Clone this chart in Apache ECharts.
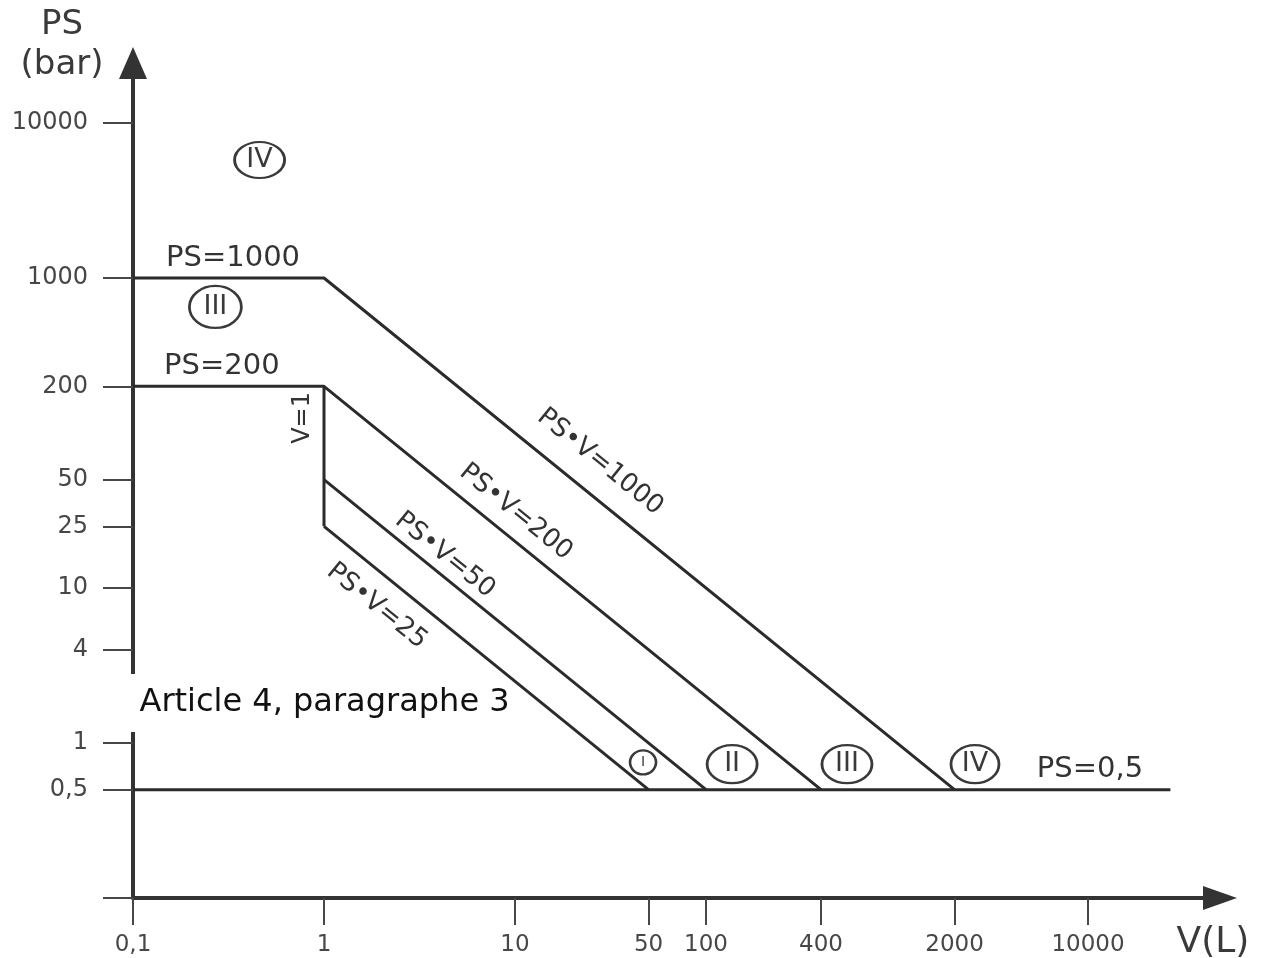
<!DOCTYPE html>
<html>
<head>
<meta charset="utf-8">
<title>PS / V</title>
<script src="https://cdn.jsdelivr.net/npm/echarts@6/dist/echarts.min.js"></script>
<style>
html, body { margin: 0; padding: 0; background: #fff; }
#chart { width: 1268px; height: 958px; }
</style>
</head>
<body>
<div id="chart"></div>
<script>
// tick values
var xTicks = [0.1, 1, 10, 50, 100, 400, 2000, 10000];
var yTicks = [0.1, 0.5, 1, 4, 10, 25, 50, 200, 1000, 10000];
var yLabels = [0.5, 1, 4, 10, 25, 50, 200, 1000, 10000];

// boundary lines, [V, PS]
var linePS1000 = [[0.1, 1000], [1, 1000], [2000, 0.5]];
var linePS200 = [[0.1, 200], [1, 200], [400, 0.5]];
var lineV1 = [[1, 200], [1, 25]];
var linePSV50 = [[1, 50], [100, 0.5]];
var linePSV25 = [[1, 25], [50, 0.5]];
var linePS05 = [[0.1, 0.5], [27000, 0.5]];

// category circles
var zoneNames = ['IV', 'III', 'I', 'II', 'III', 'IV'];
var zoneAt = [[0.46, 5770], [0.27, 650], [46.8, 0.75], [137, 0.73], [547, 0.73], [2560, 0.73]];

// captions of the lines
var captionText = ['PS=1000', 'PS=200', 'V=1', 'PS•V=1000', 'PS•V=200', 'PS•V=50', 'PS•V=25', 'PS=0,5'];
var captionAt = [[0.334, 1346], [0.292, 270], [0.776, 125], [27.9, 65], [10.1, 30.9], [4.3, 16.3], [1.89, 7.65], [10240, 0.679]];

var noteText = 'Article 4, paragraphe 3';
var noteAt = [0.1, 1.81];

var ink = '#2b2b2b';
var grey = '#474747';
var slope = 39; // angle of PS*V lines on screen

function comma(v) { return String(v).replace('.', ','); }

function boundary(data) {
    return {
        type: 'line',
        data: data,
        symbol: 'none',
        silent: true,
        lineStyle: { color: ink, width: 3 }
    };
}

var zoneSize = [[50, 36], [52, 42], [26, 24], [50, 38], [50, 38], [48, 38]];

var chart = echarts.init(document.getElementById('chart'));
chart.setOption({
    animation: false,
    backgroundColor: '#fff',
    textStyle: { fontFamily: 'DejaVu Sans' },
    grid: { left: 133, top: 63, right: 48, bottom: 60, containLabel: false, outerBoundsMode: 'none' },
    xAxis: {
        type: 'log',
        logBase: 10,
        min: 0.1,
        max: 49090,
        splitLine: { show: false },
        minorTick: { show: false },
        axisLine: {
            show: true,
            onZero: false,
            symbol: ['none', 'triangle'],
            symbolSize: [24, 34],
            lineStyle: { color: '#333', width: 4 }
        },
        axisTick: { show: true, customValues: xTicks, length: 27, lineStyle: { color: grey, width: 2 } },
        axisLabel: { customValues: xTicks, formatter: comma, margin: 36, fontSize: 23, color: grey },
        name: 'V(L)',
        nameLocation: 'end',
        nameGap: -7,
        nameMoveOverlap: false,
        nameTextStyle: { fontSize: 36, color: '#3a3a3a', align: 'center', verticalAlign: 'top', padding: [27, 0, 0, 0] }
    },
    yAxis: {
        type: 'log',
        logBase: 10,
        min: 0.1,
        max: 24380,
        splitLine: { show: false },
        minorTick: { show: false },
        axisLine: {
            show: true,
            onZero: false,
            symbol: ['none', 'triangle'],
            symbolSize: [28, 32],
            lineStyle: { color: '#333', width: 4 }
        },
        axisTick: { show: true, customValues: yTicks, length: 30, lineStyle: { color: grey, width: 2 } },
        axisLabel: { customValues: yLabels, formatter: comma, margin: 45, fontSize: 24, color: grey },
        name: 'PS\n(bar)',
        nameLocation: 'end',
        nameGap: -22,
        nameMoveOverlap: false,
        nameTextStyle: {
            fontSize: 34, color: '#3a3a3a', lineHeight: 40,
            align: 'center', verticalAlign: 'bottom', padding: [0, 142, 0, 0]
        }
    },
    series: [
        boundary(linePS1000),
        boundary(linePS200),
        boundary(lineV1),
        boundary(linePSV50),
        boundary(linePSV25),
        boundary(linePS05),
        {
            type: 'scatter',
            silent: true,
            symbol: 'circle',
            itemStyle: { color: 'rgba(255,255,255,0)', borderColor: '#3a3a3a', borderWidth: 2.5, opacity: 1 },
            label: { show: true, position: 'inside', formatter: '{b}', color: '#3a3a3a', fontSize: 27, opacity: 1 },
            data: zoneNames.map(function (n, i) {
                return {
                    name: n,
                    value: zoneAt[i],
                    symbolSize: zoneSize[i],
                    label: { fontSize: i === 2 ? 14 : 27 }
                };
            })
        },
        {
            type: 'scatter',
            silent: true,
            symbolSize: 1,
            itemStyle: { color: 'rgba(0,0,0,0)', opacity: 1 },
            label: { show: true, position: 'inside', formatter: '{b}', color: '#333', opacity: 1 },
            data: captionText.map(function (t, i) {
                var rot = 0, size = 29;
                if (t.indexOf('•') >= 0) { rot = -slope; size = 26; }
                else if (t === 'V=1') { rot = 90; size = 24; }
                return { name: t, value: captionAt[i], label: { rotate: rot, fontSize: size } };
            })
        },
        {
            type: 'scatter',
            silent: true,
            symbolSize: 1,
            itemStyle: { color: 'rgba(0,0,0,0)', opacity: 1 },
            label: {
                show: true, position: 'right', distance: 0, offset: [-6, 0],
                formatter: '{b}', color: '#111', fontSize: 32, opacity: 1,
                backgroundColor: '#fff', padding: [12, 4, 14, 12]
            },
            data: [{ name: noteText, value: noteAt }]
        }
    ]
});
</script>
</body>
</html>
